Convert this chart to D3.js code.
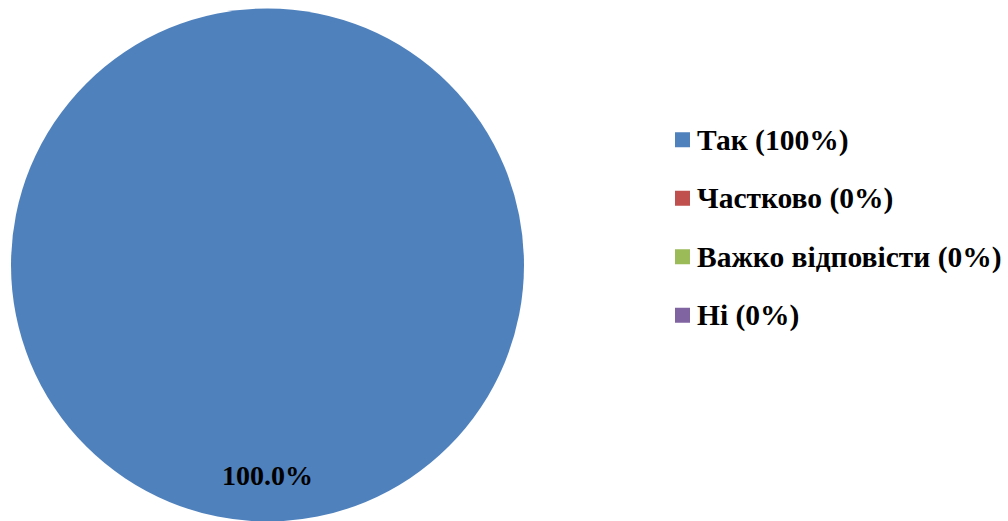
<!DOCTYPE html>
<html>
<head>
<meta charset="utf-8">
<script src="https://cdn.jsdelivr.net/npm/d3@7"></script>
<style>
html, body { margin: 0; padding: 0; background: #fff; }
svg { display: block; }
svg text { font-family: "Liberation Serif", "Times New Roman", Times, "DejaVu Serif", serif; font-weight: 700; }
</style>
</head>
<body>
<svg id="chart" width="1008" height="521"></svg>
<script>
const categories = ["Так", "Частково", "Важко відповісти", "Ні"];
const values = [100, 0, 0, 0];
const colors = ["#4F81BD", "#C0504D", "#9BBB59", "#8064A2"];

const svg = d3.select("#chart");
const cx = 267.5, cy = 265, r = 256.5;
const total = d3.sum(values);

const pie = d3.pie().sort(null).value(d => d.value);
const data = pie(categories.map((c, i) => ({ name: c, value: values[i], color: colors[i] })));
const arc = d3.arc().innerRadius(0).outerRadius(r);
const labelArc = d3.arc().innerRadius(r * 0.82).outerRadius(r * 0.82);

const g = svg.append("g").attr("transform", `translate(${cx},${cy})`);
g.selectAll("path").data(data).join("path")
  .attr("d", arc)
  .attr("fill", d => d.data.color);

g.selectAll("text").data(data.filter(d => d.data.value > 0)).join("text")
  .attr("transform", d => {
    const [x, y] = labelArc.centroid(d);
    return `translate(${x},${y})`;
  })
  .attr("text-anchor", "middle")
  .attr("dy", "0.35em")
  .attr("font-size", 28)
  .attr("fill", "#000")
  .text(d => (d.data.value / total * 100).toFixed(1) + "%");

const legend = svg.append("g").attr("transform", "translate(675,0)");
const rowY = d3.scaleBand().domain(categories).range([111, 345]);
const items = legend.selectAll("g").data(categories).join("g")
  .attr("transform", c => `translate(0,${rowY(c) + rowY.bandwidth() / 2})`);
items.append("rect")
  .attr("x", 0).attr("y", -8).attr("width", 15).attr("height", 15)
  .attr("fill", (c, i) => colors[i]);
items.append("text")
  .attr("x", 22).attr("y", 9.5)
  .attr("font-size", 29.5)
  .attr("fill", "#000")
  .text((c, i) => `${c} (${Math.round(values[i] / total * 100)}%)`);
</script>
</body>
</html>
